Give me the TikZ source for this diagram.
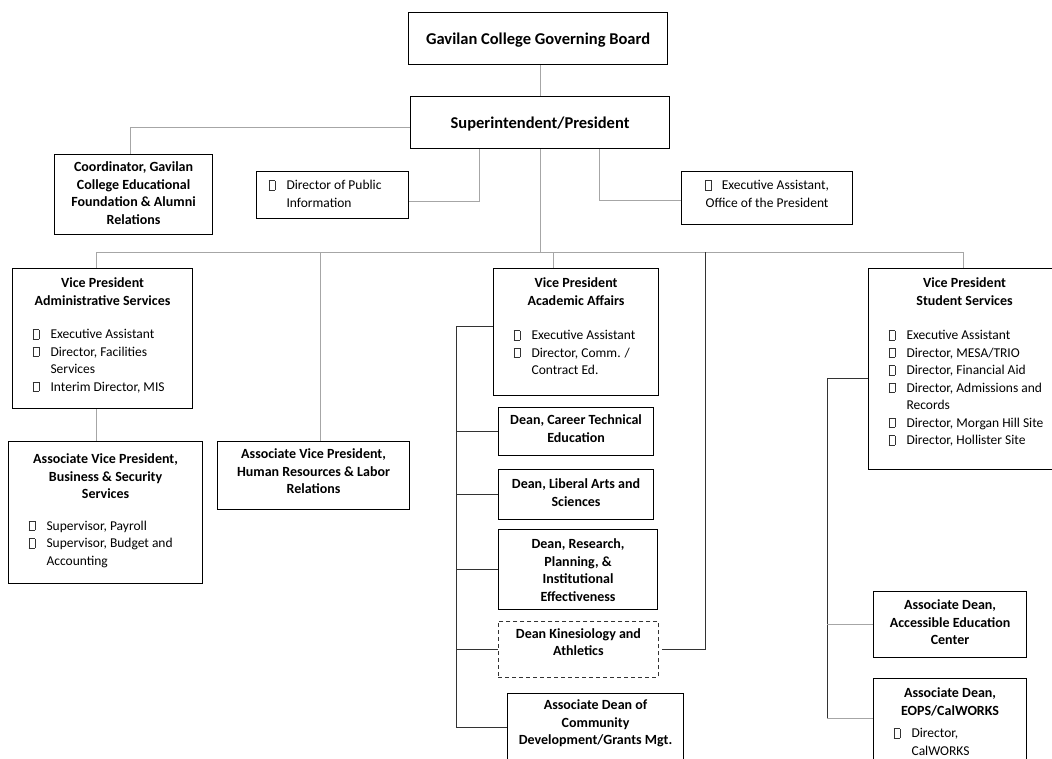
\documentclass[tikz,border=0pt]{standalone}
\usepackage{fontspec}
\setmainfont{Carlito}
\usepackage{tikz}
\usetikzlibrary{positioning}

% little hollow box used as list bullet
\newcommand\bx{{\setlength{\fboxsep}{0pt}\setlength{\fboxrule}{0.6pt}\color{black!80}\fbox{\rule{0pt}{8.5pt}\hspace{5.5pt}}}}
\newcommand\tp[1]{\rule{0pt}{#1pt}}
\newcommand\hd[2][14]{{\centering\bfseries\fontsize{#1}{17.5}\selectfont #2\par}}
\newcommand\itm[2][20pt]{\par\noindent\hangindent=\dimexpr#1+18pt\relax\hangafter=1\hspace*{#1}\makebox[18pt][l]{\bx}{\let\\\newline #2}\par}
\newcommand\cell[3]{\parbox[c][#2pt][t]{#1pt}{\fontsize{13.5}{17.5}\selectfont\raggedright #3}}

\tikzset{
  orgbox/.style={draw=black, line width=1.1pt, inner sep=0pt, anchor=north west},
  link/.style={draw=gray!70, line width=1pt},
  spine/.style={draw=black!80, line width=1pt}
}

\begin{document}
\begin{tikzpicture}[x=1pt, y=-1pt]
	\useasboundingbox (0,0) rectangle (1052,758);
	\clip (0,0) rectangle (1052,758);
	% top
	\node (board)[orgbox] at (408,12) {\cell{259}{52}{\hd[16.5]{\tp{32}Gavilan College Governing Board}}};
	\node (pres)[orgbox] at (410,96) {\cell{259}{52}{\hd[16.5]{\tp{32}Superintendent/President}}};
	\node (coord)[orgbox] at (54,154) {\cell{158}{80}{\hd{\tp{17}Coordinator, Gavilan\\College Educational\\Foundation \& Alumni\\Relations}}};
	\node (dpi)[orgbox] at (256,171) {\cell{152}{47}{\itm[12pt]{\tp{18}Director of Public\\Information}}};
	\node (exa)[orgbox] at (681,171) {\cell{171}{53}{{\centering\tp{18}\bx\hspace{10pt}Executive Assistant,\\Office of the President\par}}};
	% vice presidents
	\node (vpadm)[orgbox] at (12,268) {\cell{180}{140}{\hd{\tp{19}Vice President\\Administrative Services}\vspace{16pt}\itm{Executive Assistant}\itm{Director, Facilities\\Services}\itm{Interim Director, MIS}}};
	\node (avpbus)[orgbox] at (8,441) {\cell{194}{142}{\hd{\tp{22}Associate Vice President,\\Business \& Security\\Services}\vspace{14pt}\itm{Supervisor, Payroll}\itm{Supervisor, Budget and\\Accounting}}};
	\node (avphr)[orgbox] at (217,441) {\cell{192}{68}{\hd{\tp{17}Associate Vice President,\\Human Resources \& Labor\\Relations}}};
	\node (vpaa)[orgbox] at (493,268) {\cell{165}{127}{\hd{\tp{19}Vice President\\Academic Affairs}\vspace{17pt}\itm{Executive Assistant}\itm{Director, Comm. /\\Contract Ed.}}};
	\node (dcte)[orgbox] at (498,407) {\cell{155}{48}{\hd{\tp{17}Dean, Career Technical\\Education}}};
	\node (dlas)[orgbox] at (498,469) {\cell{155}{50}{\hd{\tp{19}Dean, Liberal Arts and\\Sciences}}};
	\node (dres)[orgbox] at (498,529) {\cell{159}{80}{\hd{\tp{19}Dean, Research,\\Planning, \&\\Institutional\\Effectiveness}}};
	\node (dkin)[orgbox, line width=0.9pt, draw=black!80, dash pattern=on 4pt off 3pt] at (498,621) {\cell{160}{56}{\hd{\tp{17}Dean Kinesiology and\\Athletics}}};
	\node (adcd)[orgbox] at (507,693) {\cell{176}{68}{\hd{\tp{16}Associate Dean of\\Community\\Development/Grants Mgt.}}};
	\node (vpss)[orgbox] at (868,268) {\cell{192}{201}{\hd{\tp{19}Vice President\\Student Services}\vspace{17pt}\itm{Executive Assistant}\itm{Director, MESA/TRIO}\itm{Director, Financial Aid}\itm{Director, Admissions and\\Records}\itm{Director, Morgan Hill Site}\itm{Director, Hollister Site}}};
	\node (adaec)[orgbox] at (873,591) {\cell{153}{66}{\hd{\tp{18}Associate Dean,\\Accessible Education\\Center}}};
	\node (adeops)[orgbox] at (873,678) {\cell{153}{90}{\hd{\tp{19}Associate Dean,\\EOPS/CalWORKS}\vspace{5pt}\itm{Director,\\CalWORKS}}};
	% bus and drop points
	\coordinate (busL) at (96,252);
	\coordinate (busR) at (963,252);
	\coordinate (hrdrop) at (320,252);
	\coordinate (aadrop) at (553,252);
	\coordinate (kindrop) at (705,252);
	\coordinate (aaspine) at (456,0);
	\coordinate (ssspine) at (827,0);
	\coordinate (eopsin) at ([yshift=5pt]adeops.west);
	% connectors
	\draw [link] (pres.north) -- (pres.north |- board.south);
	\draw [link] ([yshift=-5pt]pres.west) -| ([xshift=-3.5pt]coord.north);
	\draw [link] ([yshift=-6pt]dpi.east) -| ([xshift=-60.5pt]pres.south);
	\draw [link] ([xshift=59.5pt]pres.south) |- ([yshift=-2.5pt]exa.west);
	\draw [link] (pres.south) -- (pres.south |- busL);
	\draw [link] (busL) -- (busR);
	\draw [link] (busL) -- (busL |- vpadm.north);
	\draw [link] (busL |- vpadm.south) -- (busL |- avpbus.north);
	\draw [link] (hrdrop) -- (hrdrop |- avphr.north);
	\draw [link] (aadrop) -- (aadrop |- vpaa.north);
	\draw [link] (busR) -- (busR |- vpss.north);
	\draw [spine] ([xshift=3pt]dkin.east) -| (kindrop);
	% academic affairs
	\draw [spine] ([yshift=5.5pt]vpaa.west) -| (aaspine |- adcd.west) -- (adcd.west);
	\foreach \n in {dcte, dlas, dres, dkin}
		\draw [spine] (\n.west) -- (\n.west -| aaspine);
	% student services
	\draw [spine] ([yshift=-9.5pt]vpss.west) -| (ssspine |- eopsin);
	\draw [link] (ssspine |- adaec.west) -- (adaec.west);
	\draw [link] (ssspine |- eopsin) -- (eopsin);
\end{tikzpicture}
\end{document}
